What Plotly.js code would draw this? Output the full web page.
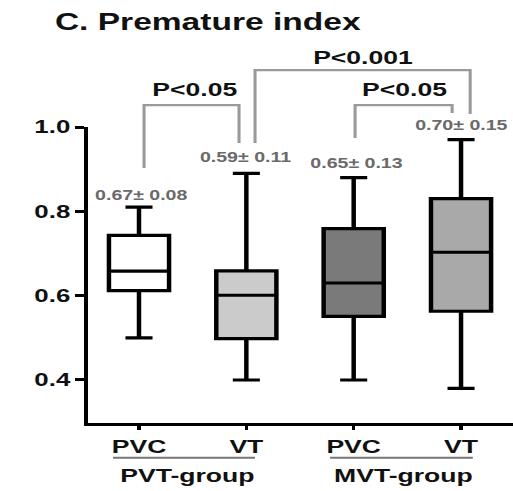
<!DOCTYPE html>
<html>
<head>
<meta charset="utf-8">
<script src="https://cdn.plot.ly/plotly-3.0.1.min.js"></script>
<style>
  html, body { margin: 0; padding: 0; background: #fff; overflow: hidden; }
  #wrap { width: 513px; height: 491px; overflow: hidden; }
  #chart { width: 367px; height: 491px; transform-origin: 0 0; transform: scaleX(1.3978); }
</style>
</head>
<body>
<div id="wrap"><div id="chart"></div></div>
<script>
// ---- data ----
const categories = ["PVC", "VT", "PVC", "VT"];
const groups = ["PVT-group", "MVT-group"];
const upperWhisker = [0.81, 0.89, 0.88, 0.97];
const q3Values = [0.743, 0.659, 0.759, 0.830];
const medians = [0.658, 0.601, 0.630, 0.703];
const q1Values = [0.612, 0.498, 0.551, 0.563];
const lowerWhisker = [0.50, 0.40, 0.40, 0.38];
const means = [0.67, 0.59, 0.65, 0.70];
const sds = [0.08, 0.11, 0.13, 0.15];
const comparisons = [[0, 1], [1, 3], [2, 3]];
const pLabels = ["P<0.05", "P<0.001", "P<0.05"];
const yTicks = [0.4, 0.6, 0.8, 1.0];

// ---- styles ----
const fills = ["#ffffff", "#cbcbcb", "#7a7a7a", "#a9a9a9"];
const FONT = "Liberation Sans, Arial, Helvetica, sans-serif";
const yMin = 0.298, yMax = 1.0;
const py = v => (v - yMin) / (yMax - yMin); // data value -> paper fraction

const traces = categories.map((c, i) => ({
  type: "box",
  x: [i],
  q1: [q1Values[i]],
  median: [medians[i]],
  q3: [q3Values[i]],
  lowerfence: [lowerWhisker[i]],
  upperfence: [upperWhisker[i]],
  fillcolor: fills[i],
  line: { color: "#000", width: 3.2 },
  width: 0.56,
  whiskerwidth: 0.45,
  boxpoints: false,
  showlegend: false,
  hoverinfo: "skip"
}));

// value labels (mean ± SD)
const valueY = [0.839, 0.929, 0.915, 1.005];
const valueX = [0.02, 1.0, 2.02, 3.0];
const annotations = means.map((m, i) => ({
  xref: "x", yref: "paper", x: valueX[i], y: py(valueY[i]),
  xanchor: "center", yanchor: "middle", showarrow: false,
  text: m.toFixed(2) + "\u00b1 " + sds[i].toFixed(2),
  font: { family: FONT, size: 14, color: "#6a6a6a", weight: "bold" }
}));

// comparison brackets
const brackets = [
  { x0: 0.047, x1: 0.932, top: 1.052, b0: 0.903, b1: 0.962, lx: 0.522, ly: 1.088 },
  { x0: 1.081, x1: 3.085, top: 1.135, b0: 0.962, b1: 1.031, lx: 2.097, ly: 1.166 },
  { x0: 2.013, x1: 2.917, top: 1.052, b0: 0.974, b1: 1.033, lx: 2.47, ly: 1.088 }
];
const shapes = [];
const bracketLine = { color: "#9a9a9a", width: 2.2 };
comparisons.forEach((pair, k) => {
  const b = brackets[k];
  shapes.push({ type: "path", xref: "x", yref: "paper",
    path: `M ${b.x0} ${py(b.b0)} L ${b.x0} ${py(b.top)} L ${b.x1} ${py(b.top)} L ${b.x1} ${py(b.b1)}`,
    line: bracketLine });
  annotations.push({
    xref: "x", yref: "paper", x: b.lx, y: py(b.ly),
    xanchor: "center", yanchor: "middle", showarrow: false,
    text: pLabels[k],
    font: { family: FONT, size: 19, color: "#111", weight: "bold" }
  });
});

// group labels + underlines
const groupCenters = [0.452, 2.46];
const groupLines = [[-0.242, 1.081], [1.78, 3.11]];
groups.forEach((g, k) => {
  annotations.push({
    xref: "x", yref: "paper", x: groupCenters[k], y: -0.176,
    xanchor: "center", yanchor: "middle", showarrow: false, text: g,
    font: { family: FONT, size: 19, color: "#111", weight: "bold" }
  });
  shapes.push({ type: "line", xref: "x", yref: "paper",
    x0: groupLines[k][0], x1: groupLines[k][1], y0: -0.117, y1: -0.117,
    line: { color: "#777", width: 2 } });
});

const layout = {
  width: 367, height: 491,
  margin: { l: 63, r: 0, t: 127, b: 68 },
  paper_bgcolor: "#fff", plot_bgcolor: "#fff",
  title: {
    text: "C. Premature index",
    x: 0.107, xanchor: "left", xref: "container",
    y: 1 - 22 / 491, yanchor: "middle", yref: "container",
    font: { family: FONT, size: 24, color: "#111", weight: "bold" }
  },
  xaxis: {
    range: [-0.4745, 3.484],
    tickvals: [0, 1, 2, 3], ticktext: categories,
    showline: true, linecolor: "#000", linewidth: 3,
    ticks: "outside", ticklen: 4, tickwidth: 2.5, tickcolor: "#000",
    showgrid: false, zeroline: false,
    tickfont: { family: FONT, size: 19, color: "#111", weight: "bold" }
  },
  yaxis: {
    range: [yMin, yMax],
    tickvals: yTicks, ticktext: yTicks.map(v => v.toFixed(1)),
    showline: true, linecolor: "#000", linewidth: 3,
    ticks: "outside", ticklen: 6, tickwidth: 3, tickcolor: "#000",
    showgrid: false, zeroline: false,
    tickfont: { family: FONT, size: 18.5, color: "#111", weight: "bold" }
  },
  shapes: shapes,
  annotations: annotations,
  showlegend: false
};

Plotly.newPlot("chart", traces, layout, { displayModeBar: false, staticPlot: true });
</script>
</body>
</html>
